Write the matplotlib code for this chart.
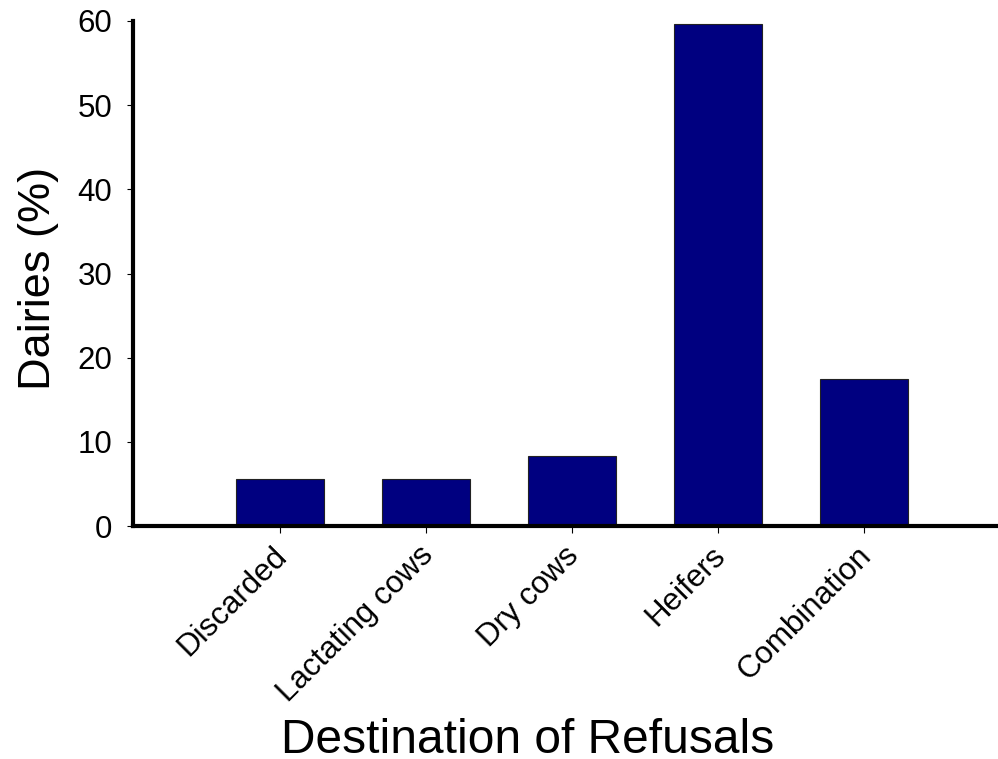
import matplotlib
matplotlib.use("Agg")
import matplotlib.pyplot as plt
from matplotlib.transforms import ScaledTranslation

categories = ["Discarded", "Lactating cows", "Dry cows", "Heifers", "Combination"]
dairies_pct = [5.6, 5.6, 8.3, 59.7, 17.5]
y_ticks = [0, 10, 20, 30, 40, 50, 60]

plt.rcParams["font.family"] = ["Liberation Sans", "DejaVu Sans"]

W, H = 998, 759
fig = plt.figure(figsize=(W / 100, H / 100), dpi=100)
ax = fig.add_axes([133 / W, 1 - 526 / H, (W - 133) / W, (526 - 21) / H])

x = list(range(len(categories)))
ax.bar(x, dairies_pct, width=0.6, color="#000080", edgecolor="#222222", linewidth=0.8)

ax.set_xlim(-1.007, 4.918)
ax.set_ylim(0, 60)
ax.set_yticks(y_ticks)
ax.set_xticks(x)
ax.set_xticklabels(categories, rotation=45, ha="right", va="top",
                   rotation_mode="anchor", fontsize=22.5)
ax.tick_params(axis="y", labelsize=22.5, length=4, width=0.8, pad=11)
ax.tick_params(axis="x", length=5, width=0.8, pad=5.5)

# nudge the slanted category labels so they end just under their ticks
shift = ScaledTranslation(-8 / 100, 0, fig.dpi_scale_trans)
for lbl in ax.get_xticklabels():
    lbl.set_transform(lbl.get_transform() + shift)

for side in ("top", "right"):
    ax.spines[side].set_visible(False)
for side in ("left", "bottom"):
    ax.spines[side].set_linewidth(3)

fig.text(528 / W, 1 - 753 / H, "Destination of Refusals", fontsize=34.5,
         ha="center", va="baseline")
fig.text(39 / W, 1 - 278 / H, "Dairies (%)", fontsize=32.5, rotation=90,
         ha="center", va="center")

fig.savefig("out.png", dpi=100)
